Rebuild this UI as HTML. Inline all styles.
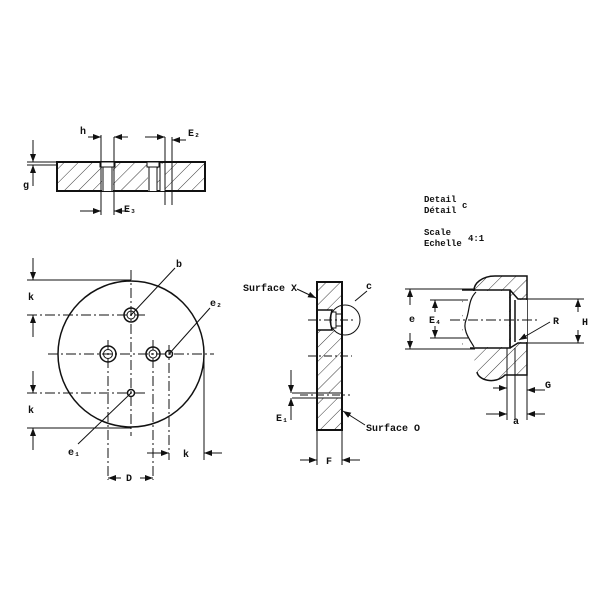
<!DOCTYPE html>
<html><head><meta charset="utf-8"><style>
html,body{margin:0;padding:0;background:#fff}
svg{display:block}
text{font-family:"Liberation Mono","DejaVu Sans Mono",monospace;font-weight:bold;fill:#111}
</style></head><body>
<svg width="600" height="600" viewBox="0 0 600 600" xmlns="http://www.w3.org/2000/svg">
<defs>
<pattern id="h" width="10" height="10" patternUnits="userSpaceOnUse" patternTransform="rotate(45)">
<line x1="0" y1="0" x2="0" y2="10" stroke="#222" stroke-width="0.9"/>
</pattern>
<marker id="a" markerWidth="8" markerHeight="6" refX="8" refY="3" orient="auto" markerUnits="userSpaceOnUse"><path d="M0,0 L8,3 L0,6z" fill="#111"/></marker>
</defs>
<g stroke="#111" fill="none" stroke-width="1">
<rect x="57" y="162" width="148" height="29" fill="url(#h)" stroke-width="2"/>
<rect x="102" y="164" width="11" height="27" fill="#fff" stroke="none"/>
<rect x="148" y="164" width="9" height="27" fill="#fff" stroke="none"/>
<rect x="160" y="164" width="5" height="27" fill="#fff" stroke="none"/>
<rect x="100" y="162" width="15" height="5" fill="#fff"/>
<rect x="147" y="162" width="12" height="5" fill="#fff"/>
<line x1="103" y1="167" x2="103" y2="191"/><line x1="112" y1="167" x2="112" y2="191"/>
<line x1="149" y1="167" x2="149" y2="191"/><line x1="157" y1="167" x2="157" y2="191"/>
<line x1="160" y1="162" x2="160" y2="191"/><line x1="165" y1="162" x2="165" y2="191"/>
<line x1="27" y1="162" x2="57" y2="162"/><line x1="27" y1="165" x2="57" y2="165"/>
<line x1="33" y1="140" x2="33" y2="162" marker-end="url(#a)"/>
<line x1="33" y1="186" x2="33" y2="165" marker-end="url(#a)"/>
<line x1="101" y1="135" x2="101" y2="215"/><line x1="114" y1="137" x2="114" y2="215"/>
<line x1="165" y1="137" x2="165" y2="205"/><line x1="172" y1="137" x2="172" y2="205"/>
<line x1="88" y1="137" x2="101" y2="137" marker-end="url(#a)"/>
<line x1="128" y1="137" x2="114" y2="137" marker-end="url(#a)"/>
<line x1="145" y1="137" x2="165" y2="137" marker-end="url(#a)"/>
<line x1="186" y1="140" x2="172" y2="140" marker-end="url(#a)"/>
<line x1="80" y1="211" x2="101" y2="211" marker-end="url(#a)"/>
<line x1="128" y1="211" x2="114" y2="211" marker-end="url(#a)"/>
<circle cx="131" cy="354" r="73" stroke-width="1.5"/>
<g stroke-dasharray="10,3,2,3">
<line x1="131" y1="270" x2="131" y2="436"/>
<line x1="48" y1="354" x2="214" y2="354"/>
<line x1="27" y1="315" x2="145" y2="315"/>
<line x1="27" y1="393" x2="145" y2="393"/>
<line x1="108" y1="340" x2="108" y2="480"/>
<line x1="153" y1="340" x2="153" y2="480"/>
<line x1="169" y1="345" x2="169" y2="460"/>
</g>
<line x1="27" y1="280" x2="131" y2="280"/><line x1="27" y1="428" x2="131" y2="428"/>
<line x1="204" y1="354" x2="204" y2="460"/>
<line x1="33" y1="258" x2="33" y2="280" marker-end="url(#a)"/>
<line x1="33" y1="337" x2="33" y2="315" marker-end="url(#a)"/>
<line x1="33" y1="371" x2="33" y2="393" marker-end="url(#a)"/>
<line x1="33" y1="450" x2="33" y2="428" marker-end="url(#a)"/>
<line x1="147" y1="453" x2="169" y2="453" marker-end="url(#a)"/>
<line x1="222" y1="453" x2="204" y2="453" marker-end="url(#a)"/>
<line x1="121" y1="478" x2="108" y2="478" marker-end="url(#a)"/>
<line x1="140" y1="478" x2="153" y2="478" marker-end="url(#a)"/>
<circle cx="131" cy="315" r="7" stroke-width="1.5"/><circle cx="131" cy="315" r="4"/>
<circle cx="108" cy="354" r="8" stroke-width="1.5"/><circle cx="108" cy="354" r="4.5"/>
<circle cx="153" cy="354" r="7" stroke-width="1.5"/><circle cx="153" cy="354" r="4"/>
<circle cx="169" cy="354" r="3.5" stroke-width="1.5"/>
<circle cx="131" cy="393" r="3.5" stroke-width="1.5"/>
<line x1="131" y1="315" x2="175" y2="268"/>
<line x1="169" y1="354" x2="210" y2="308"/>
<line x1="131" y1="393" x2="78" y2="444"/>
<rect x="317" y="282" width="25" height="148" fill="url(#h)" stroke-width="2"/>
<rect x="318" y="310" width="23" height="20" fill="#fff" stroke="none"/>
<path d="M318,310 H332 Q329,320 332,330 H318" stroke-width="1.5"/>
<path d="M332,312 H336 V328 H332 M336,314 H341 M336,326 H341"/>
<rect x="318" y="393" width="23" height="5" fill="#fff" stroke="none"/>
<line x1="317" y1="393" x2="342" y2="393"/><line x1="317" y1="398" x2="342" y2="398"/>
<circle cx="345" cy="320" r="15"/>
<g stroke-dasharray="8,3,2,3">
<line x1="308" y1="320" x2="355" y2="320"/>
<line x1="308" y1="356" x2="352" y2="356"/>
<line x1="300" y1="395" x2="350" y2="395"/>
</g>
<line x1="292" y1="393" x2="317" y2="393"/><line x1="292" y1="398" x2="317" y2="398"/>
<line x1="291" y1="370" x2="291" y2="393" marker-end="url(#a)"/>
<line x1="291" y1="420" x2="291" y2="398" marker-end="url(#a)"/>
<line x1="317" y1="430" x2="317" y2="465"/><line x1="342" y1="430" x2="342" y2="465"/>
<line x1="300" y1="460" x2="317" y2="460" marker-end="url(#a)"/>
<line x1="360" y1="460" x2="342" y2="460" marker-end="url(#a)"/>
<line x1="297" y1="289" x2="316" y2="298" marker-end="url(#a)"/>
<line x1="355" y1="301" x2="367" y2="291"/>
<line x1="365" y1="425" x2="343" y2="411" marker-end="url(#a)"/>
<path d="M475,296 C470,282 485,276 495,276 L527,276 L527,375 L505,375 C495,385 478,380 477,372 C475,360 470,350 475,346 L462,348 L462,290 L475,290 Z" fill="url(#h)" stroke="none"/>
<path d="M475,296 C470,282 485,276 495,276 L527,276 L527,375 L505,375 C495,385 478,380 477,372" stroke-width="1.5"/>
<path d="M462,290 H510 V348 H470 M510,290 L518,299 H527 M510,348 L518,343 H527" stroke-width="1.5"/>
<rect x="463" y="291" width="46" height="56" fill="#fff" stroke="none"/>
<rect x="511" y="300" width="16" height="42" fill="#fff" stroke="none"/>
<path d="M476,292 C468,300 470,310 466,320 C462,330 470,340 474,347" stroke-width="1.2"/>
<line x1="515" y1="300" x2="515" y2="342" stroke-width="1.5"/>
<line x1="510" y1="291" x2="510" y2="347" stroke-width="1.5"/>
<line x1="405" y1="289" x2="475" y2="289"/><line x1="405" y1="349" x2="475" y2="349"/>
<line x1="430" y1="300" x2="468" y2="300"/><line x1="430" y1="338" x2="468" y2="338"/>
<line x1="527" y1="299" x2="584" y2="299"/><line x1="527" y1="343" x2="584" y2="343"/>
<line x1="450" y1="320" x2="540" y2="320" stroke-dasharray="10,3,2,3"/>
<line x1="410" y1="305" x2="410" y2="289" marker-end="url(#a)"/>
<line x1="410" y1="333" x2="410" y2="349" marker-end="url(#a)"/>
<line x1="435" y1="312" x2="435" y2="300" marker-end="url(#a)"/>
<line x1="435" y1="326" x2="435" y2="338" marker-end="url(#a)"/>
<line x1="578" y1="312" x2="578" y2="299" marker-end="url(#a)"/>
<line x1="578" y1="330" x2="578" y2="343" marker-end="url(#a)"/>
<line x1="507" y1="348" x2="507" y2="420"/><line x1="515" y1="348" x2="515" y2="420"/><line x1="527" y1="375" x2="527" y2="420"/>
<line x1="493" y1="388" x2="507" y2="388" marker-end="url(#a)"/>
<line x1="545" y1="390" x2="527" y2="390" marker-end="url(#a)"/>
<line x1="486" y1="414" x2="507" y2="414" marker-end="url(#a)"/>
<line x1="545" y1="414" x2="527" y2="414" marker-end="url(#a)"/>
<line x1="550" y1="322" x2="519" y2="340" marker-end="url(#a)"/>
</g>
<g font-size="10">
<text x="80" y="134">h</text>
<text x="188" y="136">E₂</text>
<text x="23" y="188">g</text>
<text x="124" y="212">E₃</text>
<text x="176" y="267">b</text>
<text x="28" y="300">k</text>
<text x="210" y="306">e₂</text>
<text x="28" y="413">k</text>
<text x="68" y="455">e₁</text>
<text x="183" y="457">k</text>
<text x="126" y="481">D</text>
<text x="243" y="291">Surface X</text>
<text x="366" y="289">c</text>
<text x="276" y="421">E₁</text>
<text x="366" y="431">Surface O</text>
<text x="326" y="464">F</text>
<text x="409" y="322">e</text>
<text x="429" y="323">E₄</text>
<text x="553" y="324">R</text>
<text x="582" y="325">H</text>
<text x="545" y="388">G</text>
<text x="513" y="424">a</text>
</g>
<g font-size="9">
<text x="424" y="202">Detail</text>
<text x="424" y="213">Détail</text>
<text x="462" y="208">c</text>
<text x="424" y="235">Scale</text>
<text x="424" y="246">Echelle</text>
<text x="468" y="241">4:1</text>
</g>
</svg>
</body></html>
